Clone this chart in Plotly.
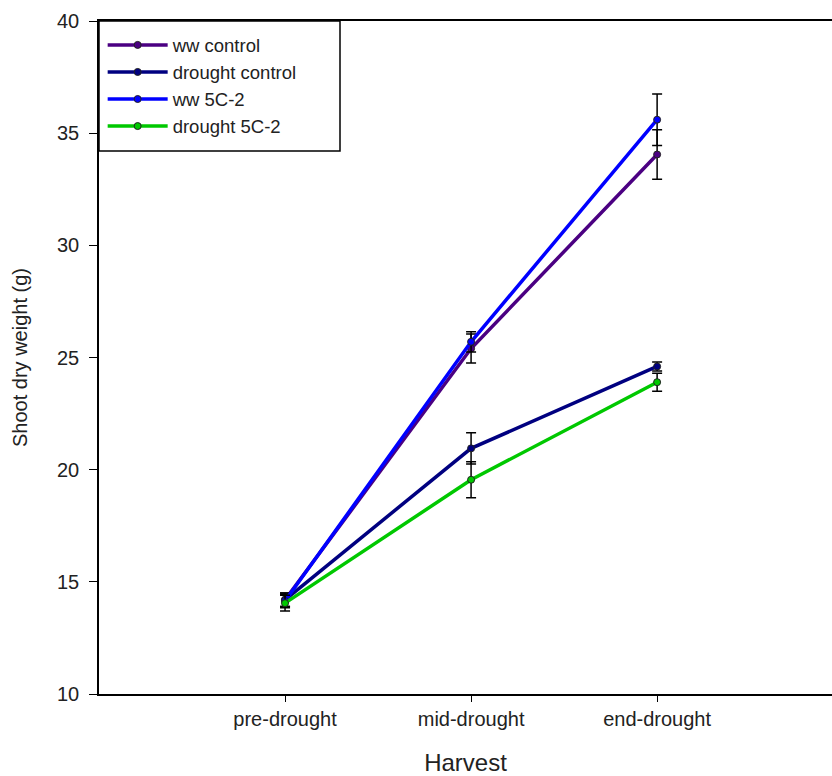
import plotly.graph_objects as go

categories = ["pre-drought", "mid-drought", "end-drought"]
x_pos = [1, 2, 3]

series_names = ["ww control", "drought control", "ww 5C-2", "drought 5C-2"]
ww_control = [14.2, 25.4, 34.05]
ww_control_err = [0.3, 0.65, 1.1]
drought_control = [14.2, 20.95, 24.6]
drought_control_err = [0.3, 0.7, 0.2]
ww_5c2 = [14.15, 25.7, 35.6]
ww_5c2_err = [0.3, 0.45, 1.15]
drought_5c2 = [14.05, 19.55, 23.9]
drought_5c2_err = [0.35, 0.8, 0.4]

colors = ["#4B0082", "#000080", "#0000FF", "#00C800"]
values = [ww_control, drought_control, ww_5c2, drought_5c2]
errors = [ww_control_err, drought_control_err, ww_5c2_err, drought_5c2_err]

fig = go.Figure()
for name, v, e, c in zip(series_names, values, errors, colors):
    fig.add_trace(go.Scatter(
        x=x_pos, y=v, name=name, mode="lines+markers",
        line=dict(color=c, width=3.5),
        marker=dict(color=c, size=7, symbol="circle", line=dict(color="#222222", width=1)),
        error_y=dict(type="data", array=e, visible=True, color="black", thickness=1.5, width=5),
    ))

# legend frame (plot area: left 99, right 832, top 21, bottom 694)
fig.add_shape(type="rect", xref="paper", yref="paper",
              x0=0, x1=(340 - 99) / 733, y0=(694 - 151) / 673, y1=1,
              line=dict(color="black", width=1.5), fillcolor="white", layer="below")

font_family = "Liberation Sans, Arial, sans-serif"
fig.update_layout(
    width=832, height=776,
    margin=dict(l=99, r=0, t=21, b=82),
    paper_bgcolor="white", plot_bgcolor="white",
    font=dict(family=font_family, color="#222222"),
    showlegend=True,
    legend=dict(
        x=0.005, y=0.992, xanchor="left", yanchor="top",
        borderwidth=0, bgcolor="rgba(0,0,0,0)",
        font=dict(size=18.5, family=font_family, color="#222222"),
        tracegroupgap=0, itemwidth=60,
    ),
    xaxis=dict(
        range=[0, 3.94], tickvals=x_pos, ticktext=categories,
        showline=True, linecolor="black", linewidth=1.5, mirror=True,
        ticks="outside", ticklen=6, tickcolor="black", tickwidth=1,
        showgrid=False, zeroline=False,
        tickfont=dict(size=20, color="#222222"),
        title=dict(text="Harvest", font=dict(size=24, color="#222222"), standoff=27),
    ),
    yaxis=dict(
        range=[10, 40], tickvals=[10, 15, 20, 25, 30, 35, 40],
        showline=True, linecolor="black", linewidth=1.5, mirror=False,
        ticks="outside", ticklen=8, tickcolor="black", tickwidth=1,
        ticklabelstandoff=6,
        showgrid=False, zeroline=False,
        tickfont=dict(size=20, color="#222222"),
        title=dict(text="Shoot dry weight (g)", font=dict(size=20, color="#222222"), standoff=24),
    ),
)

fig.write_html("out.html")
